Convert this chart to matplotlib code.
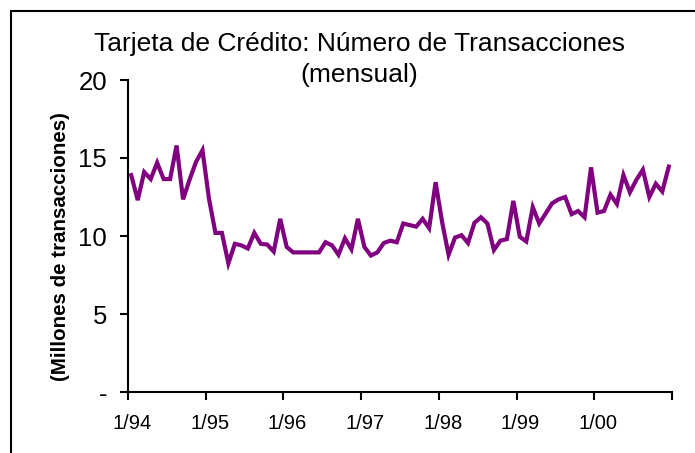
import numpy as np
import matplotlib.pyplot as plt
from matplotlib.patches import Rectangle

plt.rcParams['font.family'] = ['Liberation Sans', 'DejaVu Sans']

# monthly transactions, 1/94 .. 12/00 (millions)
transacciones = [
    13.9, 12.3, 14.1, 13.65, 14.7, 13.65, 13.65, 15.8, 12.35, 13.6, 14.75, 15.5,   # 1994
    12.4, 10.2, 10.2, 8.25, 9.5, 9.4, 9.2, 10.2, 9.5, 9.45, 9.0, 11.1,             # 1995
    9.3, 8.95, 8.95, 8.95, 8.95, 8.95, 9.6, 9.4, 8.8, 9.85, 9.15, 11.1,            # 1996
    9.3, 8.75, 8.95, 9.55, 9.7, 9.6, 10.8, 10.7, 10.6, 11.1, 10.5, 13.45,          # 1997
    10.9, 8.8, 9.9, 10.05, 9.55, 10.85, 11.2, 10.8, 9.1, 9.7, 9.8, 12.25,          # 1998
    9.95, 9.65, 11.85, 10.8, 11.45, 12.1, 12.35, 12.5, 11.4, 11.6, 11.2, 14.4,     # 1999
    11.5, 11.6, 12.65, 12.05, 13.9, 12.8, 13.6, 14.25, 12.5, 13.35, 12.85, 14.45,  # 2000
]
etiquetas_x = ['1/94', '1/95', '1/96', '1/97', '1/98', '1/99', '1/00']
ticks_y = [0, 5, 10, 15, 20]
etiquetas_y = ['-', '5', '10', '15', '20']

fig = plt.figure(figsize=(6.95, 4.53), dpi=100)
ax = fig.add_axes([128/695, 1 - 392/453, (672 - 128)/695, (392 - 80)/453])

meses = np.arange(len(transacciones)) + 0.5
ax.plot(meses, transacciones, color='#800080', lw=3.0, solid_joinstyle='miter')

ax.set_xlim(0, len(transacciones))
ax.set_ylim(0, 20)
# year tick marks without text; the labels sit on invisible minor ticks,
# slightly to the right of each year mark
years = np.arange(0, len(transacciones) + 1, 12)
ax.set_xticks(years)
ax.set_xticklabels([''] * len(years))
ax.set_xticks(years[:-1] + 0.6, minor=True)
ax.set_xticklabels(etiquetas_x, minor=True, fontsize=14.5)
ax.set_yticks(ticks_y)
ax.set_yticklabels(etiquetas_y, fontsize=18.5)

ax.tick_params(axis='x', which='major', length=6, width=1.5, colors='black')
ax.tick_params(axis='x', which='minor', length=6, width=0, pad=10, colors='black')
ax.tick_params(axis='y', length=6, width=1.5, pad=9, colors='black')
for s in ['top', 'right']:
    ax.spines[s].set_visible(False)
for s in ['left', 'bottom']:
    ax.spines[s].set_linewidth(1.5)

fig.text(61/695, 1 - 247/453, '(Millones de transacciones)', rotation=90,
         ha='center', va='center', fontsize=14.8, fontweight='bold')

fig.text(359/695, 1 - 44/453, 'Tarjeta de Crédito: Número de Transacciones',
         ha='center', va='center', fontsize=19)
fig.text(359/695, 1 - 75/453, '(mensual)', ha='center', va='center', fontsize=19)

# outer frame
fig.patches.append(Rectangle((11/695, -0.1), 1.2, 1.1 - 11/453,
                             transform=fig.transFigure, fill=False,
                             edgecolor='black', lw=1.5))

fig.savefig('out.png', dpi=100)
